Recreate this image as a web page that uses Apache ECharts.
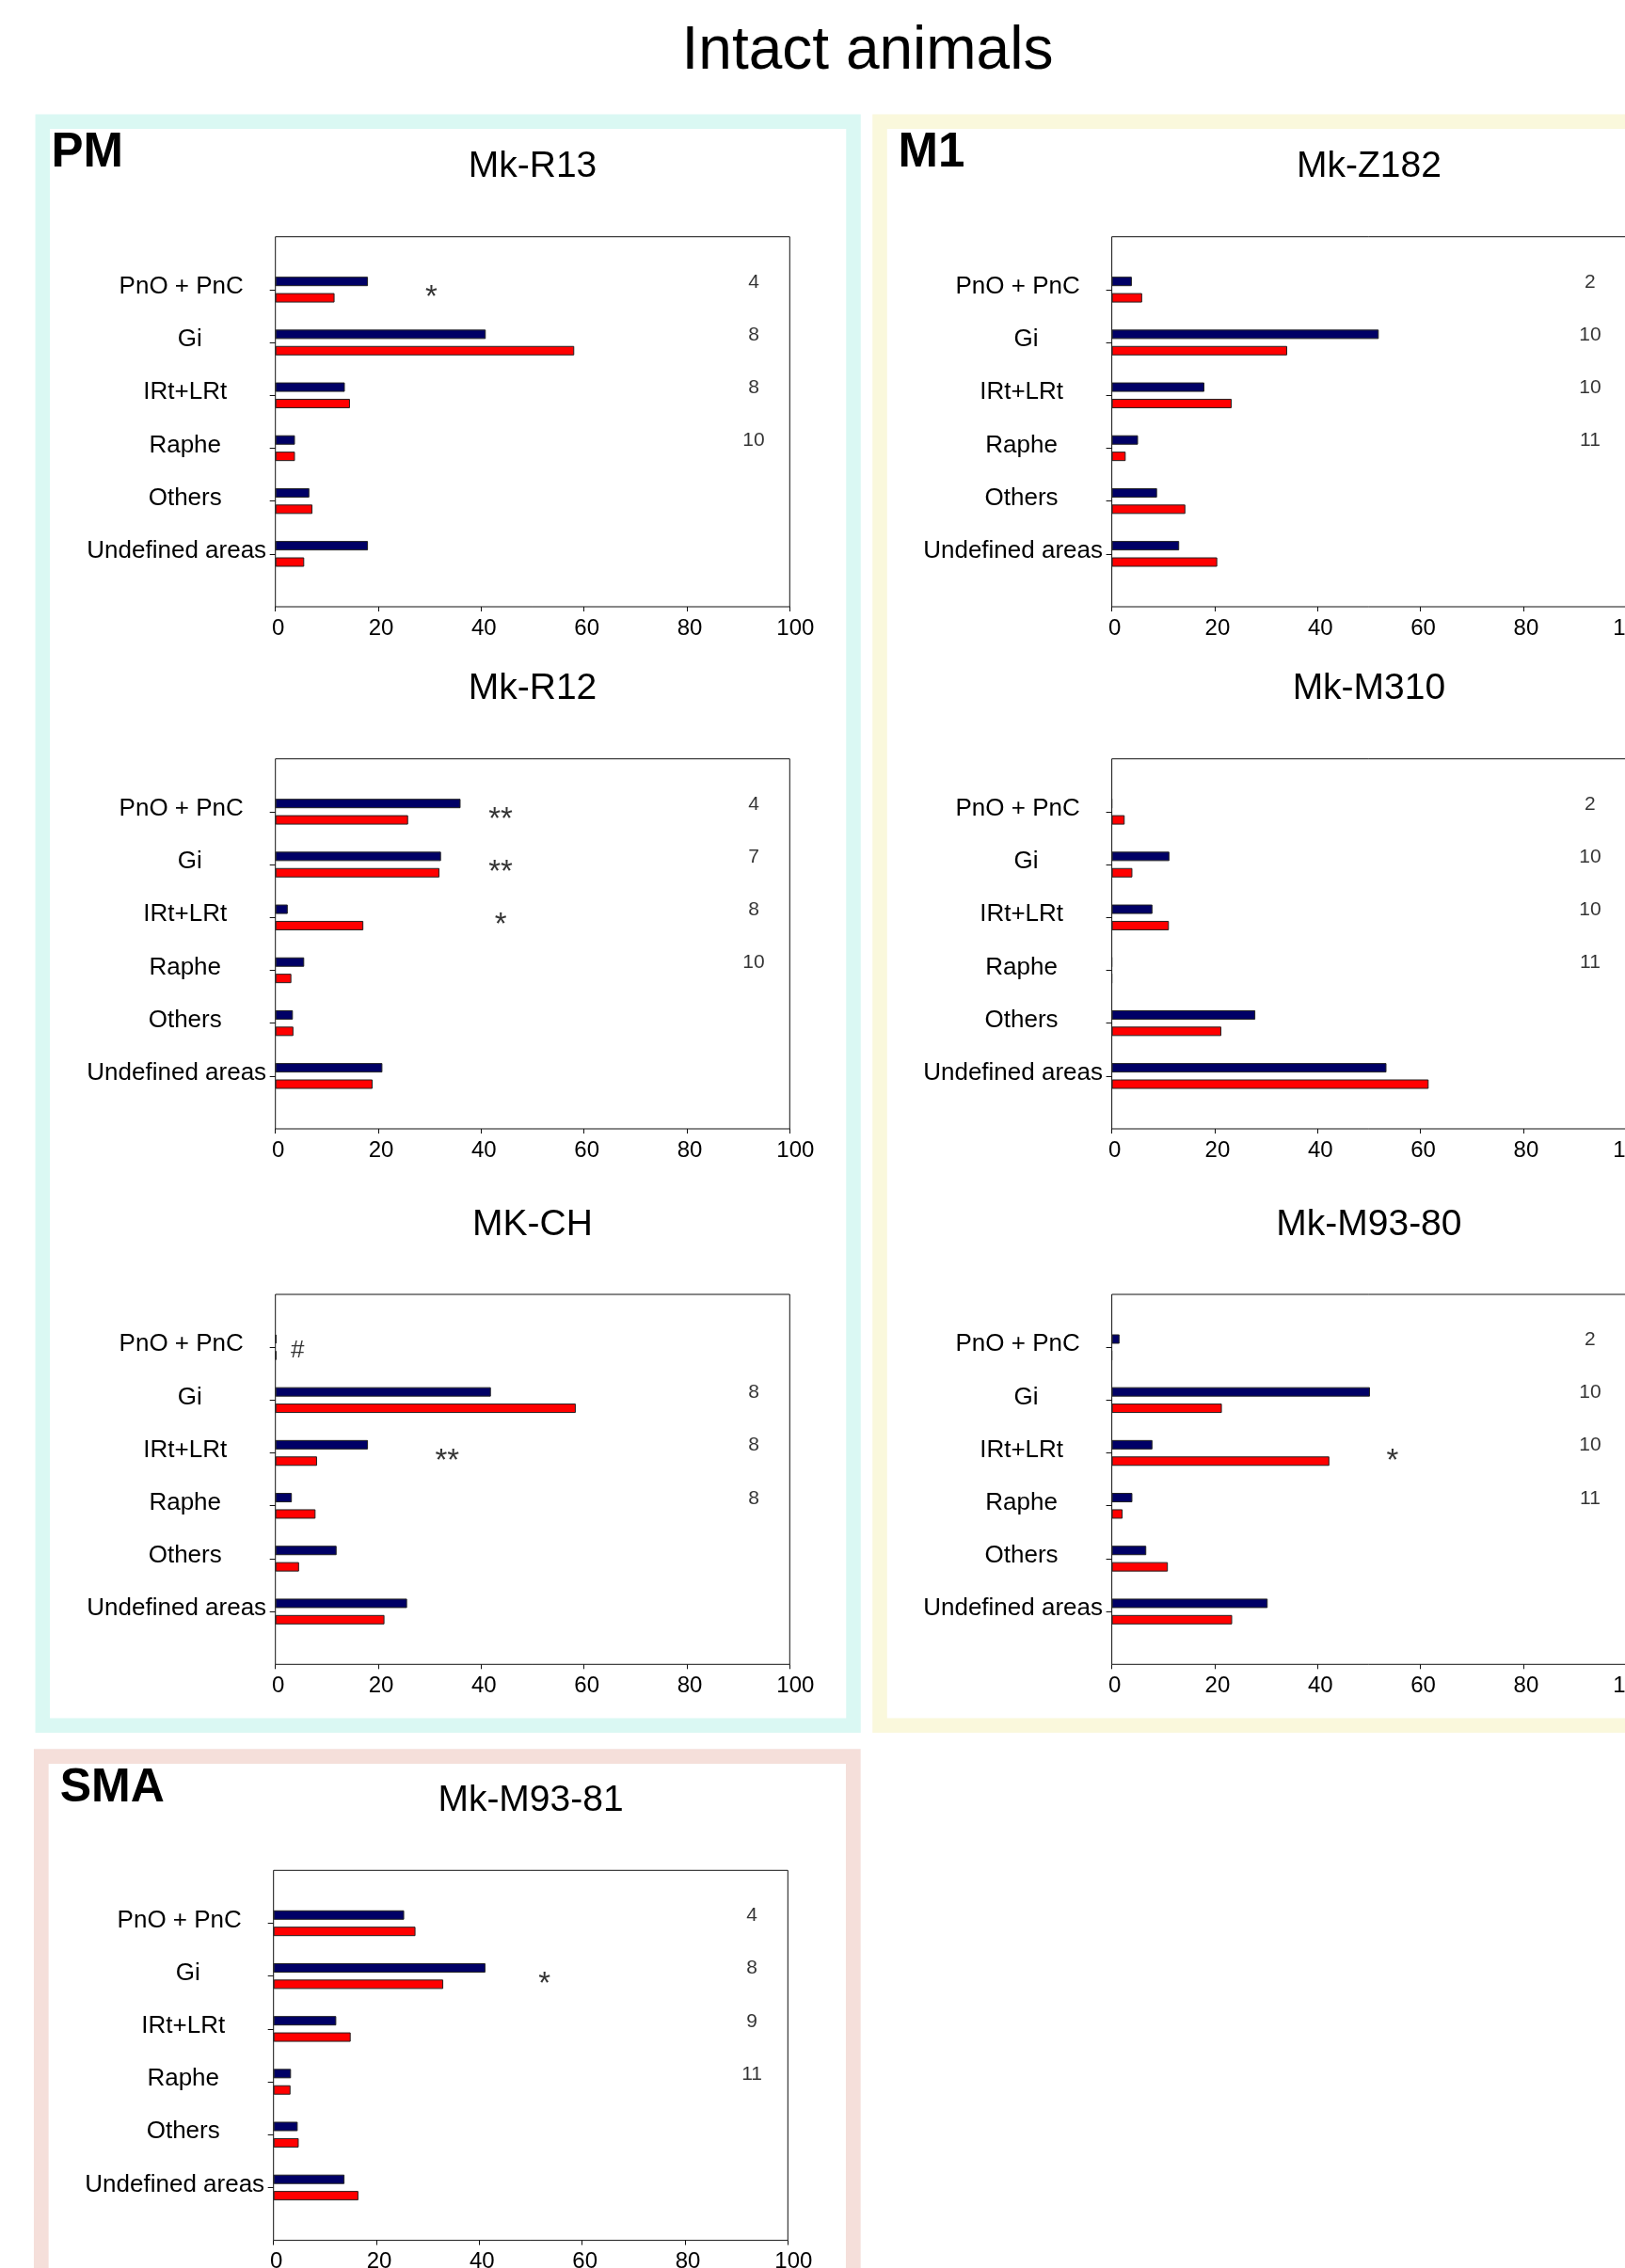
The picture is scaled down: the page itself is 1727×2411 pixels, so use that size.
<!DOCTYPE html>
<html>
<head>
<meta charset="utf-8">
<script src="https://cdn.jsdelivr.net/npm/echarts@6/dist/echarts.min.js"></script>
<style>
  html, body { margin: 0; padding: 0; background: #ffffff; }
  #chart { width: 1727px; height: 2411px; }
</style>
</head>
<body>
<div id="chart"></div>
<script>
// ---- categories and tick labels ----
const regions = ['PnO + PnC', 'Gi', 'IRt+LRt', 'Raphe', 'Others', 'Undefined areas'];
const xTicks = [0, 20, 40, 60, 80, 100];

// ---- percentages per animal (navy bars, red bars), counts and significance marks ----
const r13Navy = [18.0, 40.9, 13.5, 3.8, 6.6, 18.0];
const r13Red  = [11.5, 58.1, 14.5, 3.8, 7.2, 5.6];
const r13N    = [4, 8, 8, 10, null, null];
const r13Sig  = [['PnO + PnC', 30.3, '*']];

const z182Navy = [3.9, 51.9, 18.0, 5.1, 8.8, 13.1];
const z182Red  = [5.9, 34.1, 23.3, 2.7, 14.3, 20.5];
const z182N    = [2, 10, 10, 11, null, null];
const z182Sig  = [];

const r12Navy = [36.0, 32.2, 2.4, 5.6, 3.4, 20.8];
const r12Red  = [25.8, 31.9, 17.1, 3.1, 3.5, 18.9];
const r12N    = [4, 7, 8, 10, null, null];
const r12Sig  = [['PnO + PnC', 43.8, '**'], ['Gi', 43.8, '**'], ['IRt+LRt', 43.8, '*']];

const m310Navy = [0, 11.2, 7.9, 0, 27.9, 53.4];
const m310Red  = [2.5, 4.0, 11.1, 0, 21.3, 61.6];
const m310N    = [2, 10, 10, 11, null, null];
const m310Sig  = [];

const chNavy = [0.2, 41.9, 18.0, 3.2, 11.9, 25.6];
const chRed  = [0.2, 58.4, 8.1, 7.8, 4.6, 21.2];
const chN    = [null, 8, 8, 8, null, null];
const chSig  = [['PnO + PnC', 4.3, '#'], ['IRt+LRt', 33.4, '**']];

const m9380Navy = [1.5, 50.2, 7.9, 4.0, 6.7, 30.3];
const m9380Red  = [0, 21.4, 42.3, 2.1, 10.9, 23.4];
const m9380N    = [2, 10, 10, 11, null, null];
const m9380Sig  = [['IRt+LRt', 54.6, '*']];

const m9381Navy = [25.4, 41.2, 12.2, 3.4, 4.7, 13.8];
const m9381Red  = [27.6, 33.0, 15.0, 3.3, 4.9, 16.5];
const m9381N    = [4, 8, 9, 11, null, null];
const m9381Sig  = [['Gi', 52.7, '*']];

// ---- layout ----
const FONT = "'Liberation Sans', Arial, Helvetica, sans-serif";
const PLOT_W = 546.6, PLOT_H = 393.3;
const COUNT_X = 93;               // column of animal counts, in axis units
const NAVY = '#000066', RED = '#ff0000';

const panels = [
  { name: 'Mk-R13',    navy: r13Navy,   red: r13Red,   n: r13N,   sig: r13Sig,   left: 292.7,  top: 251.7 },
  { name: 'Mk-Z182',   navy: z182Navy,  red: z182Red,  n: z182N,  sig: z182Sig,  left: 1181.6, top: 251.7 },
  { name: 'Mk-R12',    navy: r12Navy,   red: r12Red,   n: r12N,   sig: r12Sig,   left: 292.7,  top: 806.7 },
  { name: 'Mk-M310',   navy: m310Navy,  red: m310Red,  n: m310N,  sig: m310Sig,  left: 1181.6, top: 806.7 },
  { name: 'MK-CH',     navy: chNavy,    red: chRed,    n: chN,    sig: chSig,    left: 292.7,  top: 1376 },
  { name: 'Mk-M93-80', navy: m9380Navy, red: m9380Red, n: m9380N, sig: m9380Sig, left: 1181.6, top: 1376 },
  { name: 'Mk-M93-81', navy: m9381Navy, red: m9381Red, n: m9381N, sig: m9381Sig, left: 290.7,  top: 1988.3 }
];

// category axis rows: blank slot above and below the six regions
const axisRows = [''].concat(regions, [' ']);
const labelKey = {
  'PnO + PnC': 'pno', 'Gi': 'gi', 'IRt+LRt': 'std', 'Raphe': 'std',
  'Others': 'std', 'Undefined areas': 'und'
};
const labelRich = {
  std: { fontSize: 26, fontFamily: FONT, color: '#000', padding: [0, 0, 6, 0] },
  pno: { fontSize: 26, fontFamily: FONT, color: '#000', padding: [0, 8, 6, 0] },
  gi:  { fontSize: 26, fontFamily: FONT, color: '#000', padding: [0, 0, 6, 10] },
  und: { fontSize: 26, fontFamily: FONT, color: '#000', padding: [0, 18, 6, 0] }
};
const tickRich = {
  n: { fontSize: 24, fontFamily: FONT, color: '#000', padding: [0, 0, 0, 6] },
  w: { fontSize: 24, fontFamily: FONT, color: '#000', padding: [0, 0, 0, 12] }
};

const grids = [], xAxes = [], yAxes = [], series = [], graphics = [];

// coloured frames around the cortical areas
graphics.push(
  { type: 'rect', shape: { x: 45.3, y: 129.2, width: 861.7, height: 1705.1 },
    style: { fill: 'none', stroke: '#daf8f3', lineWidth: 15.5 }, silent: true },
  { type: 'rect', shape: { x: 935, y: 129.2, width: 900, height: 1705.1 },
    style: { fill: 'none', stroke: '#faf8dc', lineWidth: 15.5 }, silent: true },
  { type: 'rect', shape: { x: 43.8, y: 1867.2, width: 863, height: 700 },
    style: { fill: 'none', stroke: '#f5dfda', lineWidth: 15.7 }, silent: true },
  { type: 'text', x: 922, y: 55, silent: true,
    style: { text: 'Intact animals', font: '64px ' + FONT, fill: '#000', textAlign: 'center', textVerticalAlign: 'middle' } },
  { type: 'text', x: 54.4, y: 163.3, silent: true,
    style: { text: 'PM', font: 'bold 51px ' + FONT, fill: '#000', textAlign: 'left', textVerticalAlign: 'middle' } },
  { type: 'text', x: 954.6, y: 163.3, silent: true,
    style: { text: 'M1', font: 'bold 51px ' + FONT, fill: '#000', textAlign: 'left', textVerticalAlign: 'middle' } },
  { type: 'text', x: 63.7, y: 1901.7, silent: true,
    style: { text: 'SMA', font: 'bold 50px ' + FONT, fill: '#000', textAlign: 'left', textVerticalAlign: 'middle' } }
);

panels.forEach((p, i) => {
  grids.push({
    left: p.left, top: p.top, width: PLOT_W, height: PLOT_H,
    containLabel: false, outerBoundsMode: 'none',
    show: true, borderColor: '#111', borderWidth: 1, backgroundColor: 'transparent'
  });

  xAxes.push({
    type: 'value', gridIndex: i,
    min: xTicks[0], max: xTicks[xTicks.length - 1], interval: xTicks[1] - xTicks[0],
    axisLine: { show: false },
    axisTick: { show: true, length: 5, lineStyle: { color: '#111', width: 1 } },
    axisLabel: {
      fontSize: 24, fontFamily: FONT, color: '#000', margin: 11, hideOverlap: false,
      formatter: (v) => (v === xTicks[xTicks.length - 1] ? '{w|' : '{n|') + v + '}',
      rich: tickRich
    },
    splitLine: { show: false }
  });

  yAxes.push({
    type: 'category', gridIndex: i, data: axisRows,
    inverse: true, boundaryGap: false,
    axisLine: { show: false },
    axisTick: {
      show: true, length: 6, lineStyle: { color: '#111', width: 1 },
      interval: (idx) => idx > 0 && idx < axisRows.length - 1
    },
    axisLabel: {
      interval: 0, margin: 96, align: 'center',
      fontSize: 26, fontFamily: FONT, color: '#000',
      formatter: (v) => labelKey[v] ? '{' + labelKey[v] + '|' + v + '}' : '',
      rich: labelRich
    },
    splitLine: { show: false }
  });

  graphics.push({
    type: 'text', x: p.left + PLOT_W / 2, y: p.top - 74, silent: true,
    style: { text: p.name, font: '39px ' + FONT, fill: '#000', textAlign: 'center', textVerticalAlign: 'middle' }
  });

  const barStyle = (c) => ({ color: c, borderColor: '#222', borderWidth: 1 });

  series.push({
    type: 'bar', xAxisIndex: i, yAxisIndex: i, silent: true,
    barWidth: 10, barGap: '74%',
    data: p.navy.map((v, k) => [v, regions[k]]),
    itemStyle: barStyle(NAVY)
  });
  series.push({
    type: 'bar', xAxisIndex: i, yAxisIndex: i, silent: true,
    barWidth: 10, barGap: '74%',
    data: p.red.map((v, k) => [v, regions[k]]),
    itemStyle: barStyle(RED)
  });

  // animal counts per region
  series.push({
    type: 'scatter', xAxisIndex: i, yAxisIndex: i, silent: true,
    symbolSize: 1, itemStyle: { color: 'rgba(0,0,0,0)' },
    data: p.n.map((v, k) => v == null ? null : { name: String(v), value: [COUNT_X, regions[k]] })
             .filter(Boolean),
    label: {
      show: true, position: 'inside', offset: [0, -8],
      formatter: (q) => q.name, fontSize: 21, fontFamily: FONT, color: '#000'
    }
  });

  // significance marks
  series.push({
    type: 'scatter', xAxisIndex: i, yAxisIndex: i, silent: true,
    symbolSize: 1, itemStyle: { color: 'rgba(0,0,0,0)' },
    data: p.sig.map((s) => ({ name: s[2], value: [s[1], s[0]] })),
    label: {
      show: true, position: 'inside',
      formatter: (q) => q.name === '#' ? '{h|#}' : '{s|' + q.name + '}',
      rich: {
        s: { fontSize: 33, fontFamily: FONT, color: '#000', padding: [18, 0, 0, 0] },
        h: { fontSize: 26, fontFamily: FONT, color: '#000', padding: [7, 0, 0, 0] }
      }
    }
  });
});

const chart = echarts.init(document.getElementById('chart'), null, { renderer: 'canvas' });
chart.setOption({
  animation: false,
  backgroundColor: '#ffffff',
  grid: grids,
  xAxis: xAxes,
  yAxis: yAxes,
  series: series,
  graphic: { elements: graphics }
});
</script>
</body>
</html>
